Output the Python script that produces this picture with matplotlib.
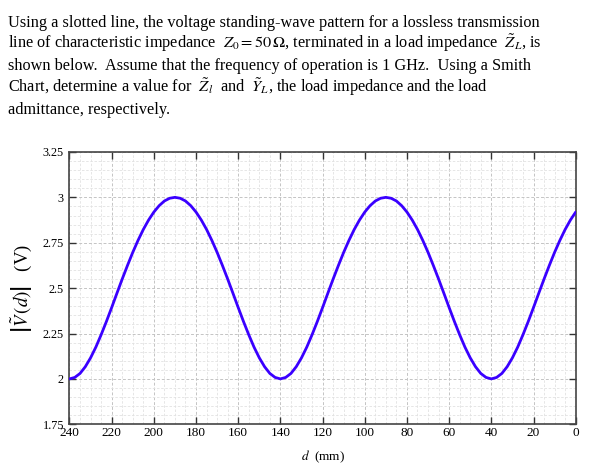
import numpy as np
import matplotlib.pyplot as plt
from matplotlib.ticker import MultipleLocator

# standing-wave magnitude, every 2.5 mm from d = 0
d_mm = np.arange(0, 242.5, 2.5)
v_mag = [
    2.919, 2.875, 2.823, 2.763, 2.697, 2.625, 2.550, 2.472, 2.393, 2.316,
    2.243, 2.175, 2.116, 2.067, 2.030, 2.008, 2.000, 2.008, 2.030, 2.067,
    2.116, 2.175, 2.243, 2.316, 2.393, 2.472, 2.550, 2.625, 2.697, 2.763,
    2.823, 2.875, 2.919, 2.954, 2.980, 2.995, 3.000, 2.995, 2.980, 2.954,
    2.919, 2.875, 2.823, 2.763, 2.697, 2.625, 2.550, 2.472, 2.393, 2.316,
    2.243, 2.175, 2.116, 2.067, 2.030, 2.008, 2.000, 2.008, 2.030, 2.067,
    2.116, 2.175, 2.243, 2.316, 2.393, 2.472, 2.550, 2.625, 2.697, 2.763,
    2.823, 2.875, 2.919, 2.954, 2.980, 2.995, 3.000, 2.995, 2.980, 2.954,
    2.919, 2.875, 2.823, 2.763, 2.697, 2.625, 2.550, 2.472, 2.393, 2.316,
    2.243, 2.175, 2.116, 2.067, 2.030, 2.008, 2.000,
]

x_ticks = [240, 220, 200, 180, 160, 140, 120, 100, 80, 60, 40, 20, 0]
y_ticks = [1.75, 2, 2.25, 2.5, 2.75, 3, 3.25]
y_labels = ['1.75', '2', '2.25', '2.5', '2.75', '3', '3.25']

question = [
    'Using a slotted line, the voltage standing-wave pattern for a lossless transmission',
    r'line of characteristic impedance  $Z_0 = 50\,\Omega$, terminated in a load impedance  $\tilde{Z}_L$, is',
    'shown below.  Assume that the frequency of operation is 1 GHz.  Using a Smith',
    r'Chart, determine a value for  $\tilde{Z}_l$  and  $\tilde{Y}_L$, the load impedance and the load',
    'admittance, respectively.',
]

plt.rcParams['font.family'] = ['Liberation Serif', 'DejaVu Serif']
plt.rcParams['mathtext.fontset'] = 'stix'

fig = plt.figure(figsize=(6.09, 4.74), dpi=100)

# baselines of the question lines (pixels from the top)
line_base = [27, 48.5, 70.5, 92.5, 114]
for txt, yy in zip(question, line_base):
    fig.text(0.013, 1 - yy / 474, txt, fontsize=11.7, va='baseline', ha='left', color='black')

ax = fig.add_axes([0.1141, 0.1049, 0.8312, 0.5745])
ax.plot(d_mm, v_mag, color='#3a00ff', lw=2.0, solid_capstyle='round', zorder=3)

ax.set_xlim(240, 0)
ax.set_ylim(1.75, 3.25)
ax.set_xticks(x_ticks)
ax.set_yticks(y_ticks)
ax.set_yticklabels(y_labels)
ax.xaxis.set_minor_locator(MultipleLocator(5))
ax.yaxis.set_minor_locator(MultipleLocator(0.05))

ax.grid(which='major', color='#c4c4c4', ls='--', lw=0.7, dashes=(3, 2))
ax.grid(which='minor', color='#e2e2e2', ls='--', lw=0.6, dashes=(3, 2))
ax.set_axisbelow(True)

ax.tick_params(which='major', direction='in', length=5, width=1.0, top=True, right=True,
               color='#333333', pad=2.5)
ax.tick_params(axis='x', which='major', labelsize=9.5, pad=2)
ax.tick_params(axis='y', which='major', labelsize=8.8, pad=4)
ax.tick_params(which='minor', length=0, top=True, right=True)
for s in ax.spines.values():
    s.set_color('#444444')
    s.set_linewidth(1.2)

ax.set_xlabel(r'$d$  (mm)', fontsize=9.5, labelpad=7)
ax.set_ylabel(r'$\left|\tilde{V}\,(d)\right|$   (V)', fontsize=13.5, labelpad=6)

fig.savefig('out.png', dpi=100)
